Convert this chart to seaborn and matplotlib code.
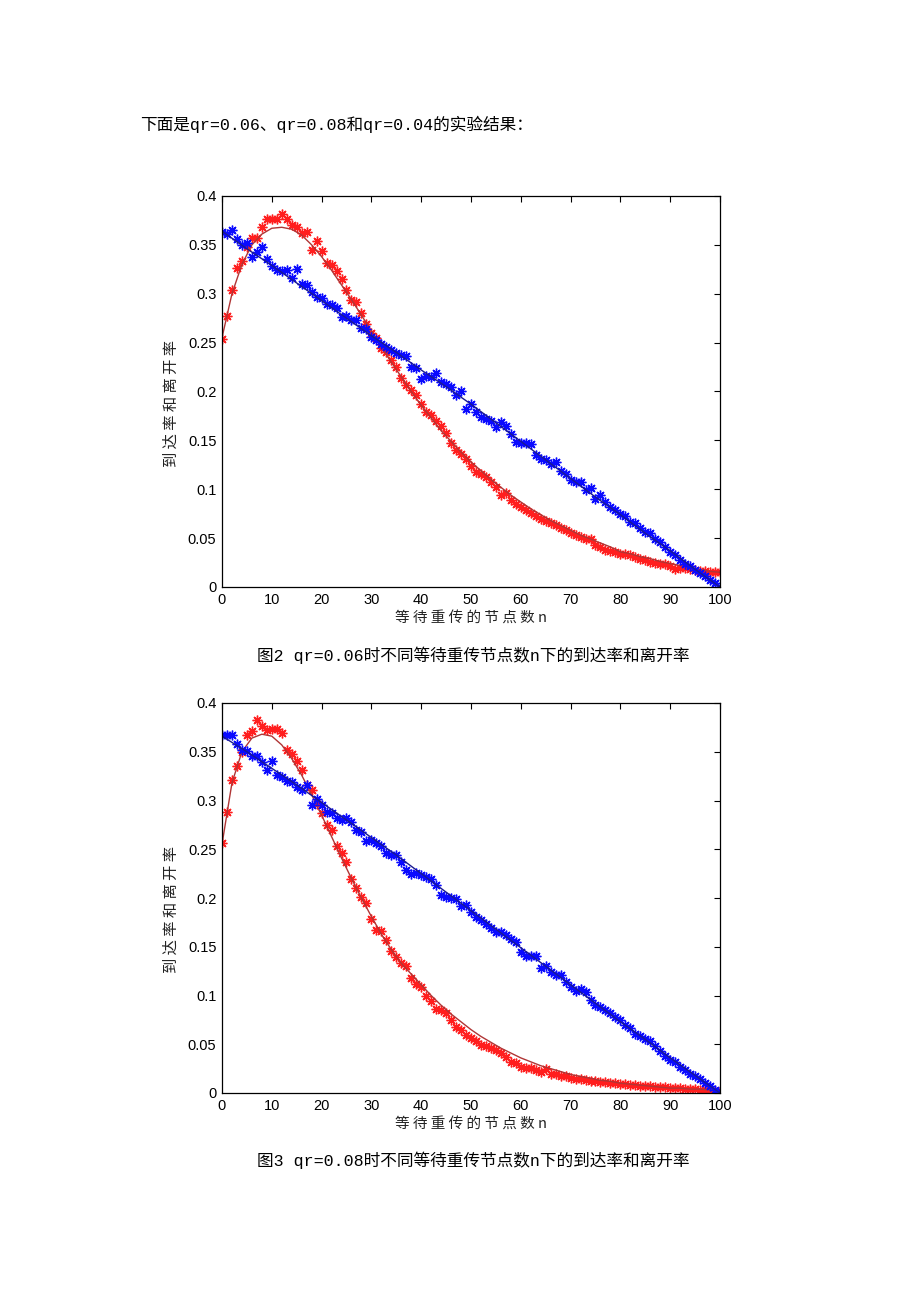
import matplotlib
matplotlib.use("Agg")
import matplotlib.pyplot as plt
import seaborn as sns
import pandas as pd
from matplotlib.ticker import FuncFormatter

# ---------------- data ----------------
n_points = list(range(101))

red_pts_qr06 = [
    0.254, 0.277, 0.304, 0.326, 0.334, 0.348, 0.357, 0.357, 0.368, 0.376,
    0.376, 0.376, 0.382, 0.376, 0.370, 0.368, 0.362, 0.363, 0.345, 0.354,
    0.344, 0.331, 0.329, 0.323, 0.315, 0.304, 0.294, 0.292, 0.280, 0.269,
    0.260, 0.255, 0.244, 0.240, 0.232, 0.225, 0.214, 0.207, 0.202, 0.196,
    0.187, 0.179, 0.176, 0.170, 0.165, 0.158, 0.147, 0.140, 0.136, 0.131,
    0.124, 0.118, 0.116, 0.113, 0.107, 0.102, 0.094, 0.096, 0.089, 0.085,
    0.082, 0.079, 0.076, 0.073, 0.070, 0.068, 0.065, 0.063, 0.060, 0.058,
    0.055, 0.053, 0.051, 0.049, 0.049, 0.043, 0.041, 0.038, 0.037, 0.036,
    0.034, 0.034, 0.033, 0.031, 0.029, 0.028, 0.026, 0.025, 0.024, 0.024,
    0.021, 0.018, 0.019, 0.019, 0.018, 0.017, 0.016, 0.016, 0.015, 0.015, 0.015,
]
blue_pts_qr06 = [
    0.363, 0.361, 0.365, 0.356, 0.350, 0.352, 0.338, 0.343, 0.348, 0.336,
    0.328, 0.324, 0.323, 0.324, 0.316, 0.325, 0.310, 0.309, 0.302, 0.297,
    0.296, 0.290, 0.289, 0.285, 0.276, 0.277, 0.273, 0.273, 0.265, 0.264,
    0.256, 0.253, 0.249, 0.246, 0.242, 0.239, 0.237, 0.236, 0.225, 0.224,
    0.213, 0.216, 0.215, 0.219, 0.210, 0.208, 0.205, 0.196, 0.200, 0.182,
    0.187, 0.179, 0.174, 0.172, 0.170, 0.164, 0.169, 0.165, 0.157, 0.148,
    0.147, 0.147, 0.146, 0.135, 0.131, 0.130, 0.126, 0.128, 0.119, 0.116,
    0.109, 0.107, 0.107, 0.099, 0.101, 0.090, 0.094, 0.087, 0.082, 0.079,
    0.075, 0.073, 0.067, 0.065, 0.060, 0.056, 0.055, 0.049, 0.046, 0.041,
    0.036, 0.033, 0.028, 0.024, 0.021, 0.017, 0.014, 0.011, 0.007, 0.004, 0.000,
]
red_pts_qr08 = [
    0.256, 0.288, 0.321, 0.335, 0.350, 0.367, 0.371, 0.383, 0.376, 0.372,
    0.373, 0.373, 0.369, 0.352, 0.348, 0.341, 0.331, 0.316, 0.311, 0.296,
    0.287, 0.275, 0.270, 0.253, 0.246, 0.237, 0.220, 0.210, 0.201, 0.195,
    0.178, 0.167, 0.166, 0.157, 0.146, 0.140, 0.133, 0.130, 0.118, 0.112,
    0.109, 0.099, 0.094, 0.086, 0.085, 0.082, 0.075, 0.068, 0.065, 0.060,
    0.056, 0.053, 0.049, 0.048, 0.046, 0.044, 0.041, 0.037, 0.032, 0.031,
    0.027, 0.026, 0.026, 0.024, 0.022, 0.025, 0.020, 0.019, 0.017, 0.017,
    0.015, 0.014, 0.014, 0.013, 0.012, 0.012, 0.011, 0.011, 0.010, 0.010,
    0.009, 0.009, 0.008, 0.008, 0.007, 0.007, 0.007, 0.006, 0.006, 0.006,
    0.005, 0.005, 0.005, 0.004, 0.004, 0.004, 0.003, 0.003, 0.003, 0.002, 0.002,
]
blue_pts_qr08 = [
    0.367, 0.367, 0.367, 0.358, 0.352, 0.351, 0.346, 0.346, 0.340, 0.331,
    0.341, 0.326, 0.324, 0.320, 0.319, 0.314, 0.311, 0.316, 0.295, 0.302,
    0.295, 0.288, 0.287, 0.282, 0.280, 0.282, 0.278, 0.270, 0.268, 0.258,
    0.259, 0.256, 0.253, 0.246, 0.244, 0.244, 0.237, 0.229, 0.225, 0.226,
    0.224, 0.222, 0.220, 0.213, 0.203, 0.201, 0.200, 0.199, 0.192, 0.193,
    0.186, 0.181, 0.177, 0.173, 0.169, 0.165, 0.165, 0.162, 0.158, 0.155,
    0.145, 0.141, 0.141, 0.141, 0.128, 0.130, 0.124, 0.121, 0.121, 0.114,
    0.109, 0.105, 0.107, 0.104, 0.095, 0.090, 0.088, 0.085, 0.082, 0.078,
    0.075, 0.070, 0.067, 0.061, 0.058, 0.055, 0.053, 0.048, 0.043, 0.038,
    0.034, 0.032, 0.027, 0.024, 0.020, 0.017, 0.014, 0.010, 0.007, 0.003, 0.001,
]

fit_n_red = list(range(0, 101, 2))
red_fit_qr06 = [
    0.255, 0.300, 0.330, 0.350, 0.361, 0.367, 0.368, 0.366, 0.360, 0.350,
    0.338, 0.324, 0.309, 0.294, 0.278, 0.262, 0.246, 0.230, 0.215, 0.200,
    0.186, 0.173, 0.160, 0.149, 0.138, 0.128, 0.119, 0.110, 0.102, 0.094,
    0.087, 0.080, 0.074, 0.068, 0.063, 0.058, 0.053, 0.049, 0.045, 0.041,
    0.036, 0.034, 0.031, 0.029, 0.026, 0.024, 0.022, 0.020, 0.018, 0.016, 0.015,
]
red_fit_qr08 = [
    0.255, 0.318, 0.350, 0.364, 0.368, 0.366, 0.357, 0.343, 0.326, 0.306,
    0.285, 0.263, 0.241, 0.220, 0.200, 0.181, 0.163, 0.147, 0.133, 0.122,
    0.111, 0.100, 0.090, 0.081, 0.073, 0.065, 0.058, 0.052, 0.046, 0.041,
    0.036, 0.032, 0.028, 0.025, 0.022, 0.019, 0.017, 0.015, 0.013, 0.012,
    0.010, 0.009, 0.008, 0.007, 0.006, 0.005, 0.005, 0.004, 0.004, 0.003, 0.003,
]
fit_n_blue = list(range(0, 101, 5))
blue_fit_qr06 = [
    0.364, 0.346, 0.329, 0.311, 0.293, 0.275, 0.257, 0.240, 0.222, 0.205,
    0.187, 0.168, 0.149, 0.130, 0.111, 0.092, 0.074, 0.055, 0.037, 0.018, 0.000,
]
blue_fit_qr08 = [
    0.366, 0.350, 0.333, 0.316, 0.298, 0.280, 0.262, 0.244, 0.225, 0.206,
    0.187, 0.168, 0.149, 0.130, 0.111, 0.092, 0.073, 0.055, 0.036, 0.018, 0.000,
]

intro_text = "下面是qr=0.06、qr=0.08和qr=0.04的实验结果："
captions = [
    "图2 qr=0.06时不同等待重传节点数n下的到达率和离开率",
    "图3 qr=0.08时不同等待重传节点数n下的到达率和离开率",
]
x_label = "等 待 重 传 的 节 点 数 n"
y_label = "到 达 率 和 离 开 率"
x_ticks = [0, 10, 20, 30, 40, 50, 60, 70, 80, 90, 100]
y_ticks = [0, 0.05, 0.1, 0.15, 0.2, 0.25, 0.3, 0.35, 0.4]

# ---------------- style ----------------
sns.set_theme(style="white")
plt.rcParams["font.family"] = ["Liberation Sans", "Noto Sans CJK SC", "DejaVu Sans"]
CJK = ["Noto Sans CJK SC", "DejaVu Sans"]
DOC = ["Liberation Mono", "Noto Sans CJK SC", "DejaVu Sans"]

RED_PT = "#ff1e1e"
BLUE_PT = "#0a0aff"
RED_LINE = "#b03535"
BLUE_LINE = "#1a1a90"
STAR = (8, 2, 0)

fig = plt.figure(figsize=(9.2, 13.02), dpi=100)
W, H = 920.0, 1302.0


def make_axes(top_px, bottom_px):
    left, right = 222.0, 720.0
    return fig.add_axes([left / W, 1 - bottom_px / H, (right - left) / W,
                         (bottom_px - top_px) / H])


panels = [
    (make_axes(196, 587), red_pts_qr06, blue_pts_qr06, red_fit_qr06, blue_fit_qr06),
    (make_axes(703, 1093), red_pts_qr08, blue_pts_qr08, red_fit_qr08, blue_fit_qr08),
]

for ax, rp, bp, rf, bf in panels:
    pts = pd.DataFrame({"n": n_points, "red": rp, "blue": bp})
    fr = pd.DataFrame({"n": fit_n_red, "y": rf})
    fb = pd.DataFrame({"n": fit_n_blue, "y": bf})

    sns.lineplot(data=pts, x="n", y="red", ax=ax, estimator=None, linestyle="",
                 marker=STAR, markersize=7, markeredgewidth=1.0,
                 color=RED_PT, markeredgecolor=RED_PT)
    sns.lineplot(data=fr, x="n", y="y", ax=ax, estimator=None,
                 color=RED_LINE, linewidth=1.0)
    sns.lineplot(data=pts, x="n", y="blue", ax=ax, estimator=None, linestyle="",
                 marker=STAR, markersize=7, markeredgewidth=1.0,
                 color=BLUE_PT, markeredgecolor=BLUE_PT)
    sns.lineplot(data=fb, x="n", y="y", ax=ax, estimator=None,
                 color=BLUE_LINE, linewidth=1.0)

    ax.set_xlim(0, 100)
    ax.set_ylim(0, 0.4)
    ax.set_xticks(x_ticks)
    ax.set_yticks(y_ticks)
    ax.yaxis.set_major_formatter(FuncFormatter(lambda v, p: "%g" % round(v, 3)))
    ax.tick_params(direction="in", length=4, width=0.8, top=True, right=True,
                   labelsize=10.5, colors="black", pad=4)
    for s in ax.spines.values():
        s.set_color("black")
        s.set_linewidth(0.9)
    ax.set_xlabel(x_label, family=CJK, fontsize=10.5, color="#222222", labelpad=3)
    ax.set_ylabel(y_label, family=CJK, fontsize=11, color="#222222")
    ax.yaxis.set_label_coords(-0.084, 0.47)

fig.text(140 / W, 1 - 124 / H, intro_text, family=DOC, fontsize=12,
         ha="left", va="center", color="black")
fig.text(473 / W, 1 - 655 / H, captions[0], family=DOC, fontsize=12,
         ha="center", va="center", color="black")
fig.text(473 / W, 1 - 1160 / H, captions[1], family=DOC, fontsize=12,
         ha="center", va="center", color="black")

fig.savefig("out.png", dpi=100, facecolor="white")
